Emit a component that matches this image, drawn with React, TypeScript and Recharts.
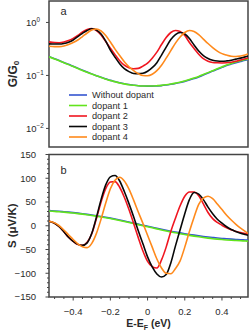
import React from 'react';
import { LineChart, Line, XAxis, YAxis, ReferenceArea, Legend } from 'recharts';

// Energy grid E - E_F (eV)
const energy = [
  -0.53, -0.5, -0.475, -0.45, -0.425, -0.4, -0.375, -0.35, -0.325, -0.3,
  -0.275, -0.25, -0.225, -0.2, -0.175, -0.15, -0.125, -0.1, -0.075, -0.05,
  -0.025, 0, 0.025, 0.05, 0.075, 0.1, 0.125, 0.15, 0.175, 0.2,
  0.225, 0.25, 0.275, 0.3, 0.325, 0.35, 0.375, 0.4, 0.425, 0.45,
  0.475, 0.5, 0.525, 0.54,
];

// Panel a: G/G0
const gWithout = [
  0.228, 0.207, 0.191, 0.175, 0.162, 0.149, 0.137, 0.126, 0.116, 0.107,
  0.0991, 0.092, 0.0861, 0.0807, 0.0766, 0.0727, 0.0696, 0.0672, 0.0655, 0.064,
  0.0632, 0.0629, 0.0629, 0.0635, 0.0643, 0.066, 0.0681, 0.0705, 0.0733, 0.0773,
  0.0818, 0.0873, 0.0937, 0.102, 0.111, 0.121, 0.131, 0.142, 0.154, 0.164,
  0.174, 0.184, 0.194, 0.199,
];
const gDopant1 = [
  0.225, 0.204, 0.189, 0.173, 0.16, 0.147, 0.135, 0.124, 0.115, 0.106,
  0.0982, 0.0912, 0.0853, 0.08, 0.076, 0.0722, 0.0692, 0.0669, 0.0653, 0.064,
  0.0633, 0.0631, 0.0633, 0.064, 0.065, 0.0668, 0.069, 0.0716, 0.0746, 0.0788,
  0.0835, 0.0892, 0.0958, 0.104, 0.113, 0.123, 0.134, 0.145, 0.157, 0.168,
  0.179, 0.189, 0.199, 0.206,
];
const gDopant2 = [
  0.43, 0.417, 0.414, 0.427, 0.455, 0.501, 0.567, 0.66, 0.736, 0.769,
  0.705, 0.579, 0.436, 0.328, 0.247, 0.19, 0.156, 0.14, 0.134, 0.136,
  0.15, 0.171, 0.212, 0.275, 0.383, 0.519, 0.646, 0.705, 0.675, 0.567,
  0.417, 0.321, 0.252, 0.207, 0.186, 0.176, 0.173, 0.172, 0.173, 0.177,
  0.185, 0.196, 0.207, 0.214,
];
const gDopant3 = [
  0.394, 0.391, 0.391, 0.4, 0.423, 0.466, 0.542, 0.624, 0.705, 0.759,
  0.721, 0.605, 0.446, 0.301, 0.221, 0.167, 0.134, 0.118, 0.109, 0.108,
  0.11, 0.12, 0.14, 0.174, 0.242, 0.343, 0.476, 0.592, 0.646, 0.605,
  0.497, 0.374, 0.288, 0.237, 0.209, 0.194, 0.187, 0.185, 0.188, 0.194,
  0.203, 0.212, 0.224, 0.23,
];
const gDopant4 = [
  0.355, 0.35, 0.35, 0.358, 0.383, 0.417, 0.466, 0.542, 0.632, 0.721,
  0.753, 0.69, 0.567, 0.427, 0.314, 0.237, 0.182, 0.146, 0.123, 0.108,
  0.0995, 0.0987, 0.105, 0.123, 0.156, 0.212, 0.294, 0.408, 0.531, 0.646,
  0.705, 0.675, 0.592, 0.486, 0.4, 0.335, 0.288, 0.258, 0.242, 0.231,
  0.228, 0.233, 0.244, 0.255,
];

// Panel b: S (µV/K)
const sWithout = [
  32, 31.2, 30.4, 29.5, 28.6, 27.6, 26.5, 25.3, 24, 22.6,
  21.1, 19.5, 17.8, 16, 14.1, 12.1, 10, 7.8, 5.6, 3.4,
  1.2, -1, -3.2, -5.4, -7.5, -9.5, -11.4, -13.2, -15, -16.7,
  -18.3, -19.8, -21.2, -22.5, -23.7, -24.8, -25.8, -26.7, -27.5, -28.2,
  -28.8, -29.4, -29.9, -30.2,
];
const sDopant1 = [
  31, 30.3, 29.5, 28.6, 27.7, 26.7, 25.6, 24.4, 23.1, 21.7,
  20.2, 18.6, 16.9, 15.1, 13.2, 11.2, 9.1, 6.9, 4.6, 2.4,
  0.1, -2.1, -4.4, -6.6, -8.8, -10.9, -12.9, -14.8, -16.7, -18.5,
  -20.2, -21.8, -23.3, -24.7, -26, -27.2, -28.2, -29.1, -29.9, -30.6,
  -31.2, -31.7, -32.1, -32.4,
];
const sDopant2 = [
  9.5, 5.3, -2.1, -12.7, -24.3, -33, -39.5, -41, -35, -17,
  15, 50, 78, 92, 93, 81, 60, 34, 5, -25,
  -53, -75, -86, -89, -72, -45, -12, 16, 42, 62,
  71, 71, 63, 46, 28, 15, 7, 1, -4.5, -8.5,
  -12, -14.5, -16.5, -17.5,
];
const sDopant3 = [
  9.5, 5.3, -2.1, -12.7, -24.3, -32.8, -39.2, -41.3, -36, -16,
  18, 55, 86, 103, 105.9, 94.2, 72, 46.6, 19, -10.6,
  -38.1, -65.6, -86.8, -101.6, -108, -102.7, -78.3, -42.3, -8.5, 25.4,
  55, 69.9, 66.7, 55, 39.2, 25.4, 13.8, 5.3, -2.1, -8,
  -12.3, -15.9, -18.6, -20.1,
];
const sDopant4 = [
  9.5, 6, 0, -9, -19, -29, -38, -44, -46, -37,
  -16, 14, 48, 78, 96, 102, 94, 77, 54, 29,
  5, -20, -45, -70, -89, -100, -101, -90, -74, -45,
  -12, 18, 45, 58, 62, 57, 46, 34, 22, 12,
  3, -5, -12, -16,
];

const seriesNames = ['Without dopant', 'dopant 1', 'dopant 2', 'dopant 3', 'dopant 4'];
const seriesColors = ['#3556d0', '#62e41c', '#f01620', '#080808', '#ff8a1c'];
const seriesKeys = ['s0', 's1', 's2', 's3', 's4'];

const gTickValues = [0.01, 0.1, 1];
const gTickExponents = ['−2', '−1', '0'];
const sMajorTicks = [-150, -100, -50, 0, 50, 100, 150];
const sAllTicks = [
  -150, -140, -130, -120, -110, -100, -90, -80, -70, -60, -50, -40, -30, -20, -10, 0,
  10, 20, 30, 40, 50, 60, 70, 80, 90, 100, 110, 120, 130, 140, 150,
];
const eMajorTicks = [-0.4, -0.2, 0, 0.2, 0.4];
const eAllTicks = [
  -0.5, -0.45, -0.4, -0.35, -0.3, -0.25, -0.2, -0.15, -0.1, -0.05, 0,
  0.05, 0.1, 0.15, 0.2, 0.25, 0.3, 0.35, 0.4, 0.45, 0.5,
];

const E_DOMAIN: [number, number] = [-0.53, 0.54];
const G_DOMAIN: [number, number] = [0.00446, 2.54];
const S_DOMAIN: [number, number] = [-150, 150];

const FONT = '"Liberation Sans", Arial, Helvetica, sans-serif';
const AXIS_COLOR = '#444';
const TEXT_COLOR = '#2a2a2a';

const gSeries = [gWithout, gDopant1, gDopant2, gDopant3, gDopant4];
const sSeries = [sWithout, sDopant1, sDopant2, sDopant3, sDopant4];

const topData = energy.map((e, i) => {
  const row: any = { e };
  seriesKeys.forEach((k, j) => (row[k] = gSeries[j][i]));
  return row;
});
const bottomData = energy.map((e, i) => {
  const row: any = { e };
  seriesKeys.forEach((k, j) => (row[k] = sSeries[j][i]));
  return row;
});

const isIn = (v: number, arr: number[]) => arr.some((a) => Math.abs(a - v) < 1e-9);
const fmtNum = (v: number) => (v < 0 ? '−' + String(Math.abs(v)) : String(v));

const GTick = (props: any) => {
  const { x, y, payload } = props;
  const idx = gTickValues.findIndex((t) => Math.abs(t - payload.value) < 1e-12);
  return (
    <g>
      <line x1={x} x2={x - 3} y1={y} y2={y} stroke={AXIS_COLOR} strokeWidth={1} />
      <text x={x - 23} y={y + 3.4} fontSize={9.5} fontFamily={FONT} fill={TEXT_COLOR} textAnchor="start">
        <tspan>10</tspan>
        <tspan dy={-4.2} fontSize={6.3}>{gTickExponents[idx]}</tspan>
      </text>
    </g>
  );
};

const STick = (props: any) => {
  const { x, y, payload } = props;
  const major = isIn(payload.value, sMajorTicks);
  return (
    <g>
      <line x1={x} x2={x - (major ? 3.5 : 2)} y1={y} y2={y} stroke={AXIS_COLOR} strokeWidth={1} />
      {major && (
        <text x={x - 13} y={y + 3.4} fontSize={9.5} fontFamily={FONT} fill={TEXT_COLOR} textAnchor="end">
          {fmtNum(payload.value)}
        </text>
      )}
    </g>
  );
};

const ETick = (props: any) => {
  const { x, y, payload } = props;
  const major = isIn(payload.value, eMajorTicks);
  return (
    <g>
      <line x1={x} x2={x} y1={y} y2={y + (major ? 3.5 : 2)} stroke={AXIS_COLOR} strokeWidth={1} />
      {major && (
        <text x={x} y={y + 18} fontSize={9.5} fontFamily={FONT} fill={TEXT_COLOR} textAnchor="middle">
          {fmtNum(Math.round(payload.value * 10) / 10)}
        </text>
      )}
    </g>
  );
};

const GTitle = (props: any) => {
  const vb = props.viewBox || { x: 0, y: 0, width: 0, height: 0 };
  const cx = vb.x + 13;
  const cy = vb.y + vb.height / 2;
  return (
    <text x={cx} y={cy} transform={`rotate(-90, ${cx}, ${cy})`} textAnchor="middle" dominantBaseline="central"
      fontSize={12} fontWeight="bold" fontFamily={FONT} fill={TEXT_COLOR}>
      <tspan>G/G</tspan>
      <tspan fontSize={8} dy={3}>0</tspan>
    </text>
  );
};

const STitle = (props: any) => {
  const vb = props.viewBox || { x: 0, y: 0, width: 0, height: 0 };
  const cx = vb.x + 12;
  const cy = vb.y + vb.height / 2;
  return (
    <text x={cx} y={cy} transform={`rotate(-90, ${cx}, ${cy})`} textAnchor="middle" dominantBaseline="central"
      fontSize={11.5} fontWeight="bold" fontFamily={FONT} fill={TEXT_COLOR}>
      S (μV/K)
    </text>
  );
};

const ETitle = (props: any) => {
  const vb = props.viewBox || { x: 0, y: 0, width: 0, height: 0 };
  const cx = vb.x + vb.width / 2;
  const cy = vb.y + 30;
  return (
    <text x={cx} y={cy} textAnchor="middle" fontSize={10.5} fontWeight="bold" fontFamily={FONT} fill={TEXT_COLOR}>
      <tspan>E-E</tspan>
      <tspan fontSize={7} dy={2.5}>F</tspan>
      <tspan dy={-2.5}> (eV)</tspan>
    </text>
  );
};

const PanelLabel = (props: any) => {
  const vb = props.viewBox || { x: 0, y: 0 };
  return (
    <text x={vb.x + 11.5} y={vb.y + props.dyBase} fontSize={11} fontFamily={FONT} fill={TEXT_COLOR}>
      {props.text}
    </text>
  );
};

const LegendBox = () => (
  <svg width={250} height={150} style={{ display: 'block' }}>
    {seriesNames.map((name, i) => {
      const y = 95 + i * 10.5;
      return (
        <g key={name}>
          <line x1={69} x2={87} y1={y} y2={y} stroke={seriesColors[i]} strokeWidth={1.6} />
          <text x={92} y={y + 3.2} fontSize={9.2} fontFamily={FONT} fill={TEXT_COLOR}>{name}</text>
        </g>
      );
    })}
  </svg>
);

const renderLines = () =>
  seriesKeys.map((k, i) => (
    <Line
      key={k}
      dataKey={k}
      name={seriesNames[i]}
      type="monotone"
      stroke={seriesColors[i]}
      strokeWidth={1.6}
      dot={false}
      activeDot={false}
      isAnimationActive={false}
    />
  ));

export default function App() {
  return (
    <div style={{ position: 'absolute', left: 0, top: 0, width: 250, height: 332, background: '#fff' }}>
      <div style={{ position: 'absolute', left: 0, top: 0 }}>
        <LineChart width={250} height={150} data={topData} margin={{ top: 1, right: 2, bottom: 0, left: 0 }}>
          <XAxis dataKey="e" type="number" domain={E_DOMAIN} allowDataOverflow ticks={[]} tick={false}
            axisLine={false} tickLine={false} height={3} />
          <YAxis type="number" scale="log" domain={G_DOMAIN} allowDataOverflow ticks={gTickValues} interval={0}
            tick={(p: any) => <GTick {...p} />} tickLine={false} axisLine={false} tickSize={0} tickMargin={0}
            width={49} label={<GTitle />} />
          {renderLines()}
          <ReferenceArea x1={E_DOMAIN[0]} x2={E_DOMAIN[1]} y1={G_DOMAIN[0]} y2={G_DOMAIN[1]} fill="none"
            fillOpacity={0} stroke={AXIS_COLOR} strokeWidth={1.5} ifOverflow="visible"
            label={<PanelLabel text="a" dyBase={14} />} />
          <Legend layout="vertical" align="center" verticalAlign="middle" content={() => <LegendBox />}
            wrapperStyle={{ left: 0, top: 0, width: 250, height: 150, pointerEvents: 'none' }} />
        </LineChart>
      </div>
      <div style={{ position: 'absolute', left: 0, top: 150 }}>
        <LineChart width={250} height={182} data={bottomData} margin={{ top: 4.5, right: 2, bottom: 0, left: 0 }}>
          <XAxis dataKey="e" type="number" domain={E_DOMAIN} allowDataOverflow ticks={eAllTicks} interval={0}
            tick={(p: any) => <ETick {...p} />} tickLine={false} axisLine={false} tickSize={0} tickMargin={0}
            height={35} label={<ETitle />} />
          <YAxis type="number" domain={S_DOMAIN} allowDataOverflow ticks={sAllTicks} interval={0}
            tick={(p: any) => <STick {...p} />} tickLine={false} axisLine={false} tickSize={0} tickMargin={0}
            width={49} label={<STitle />} />
          {renderLines()}
          <ReferenceArea x1={E_DOMAIN[0]} x2={E_DOMAIN[1]} y1={S_DOMAIN[0]} y2={S_DOMAIN[1]} fill="none"
            fillOpacity={0} stroke={AXIS_COLOR} strokeWidth={1.5} ifOverflow="visible"
            label={<PanelLabel text="b" dyBase={19} />} />
        </LineChart>
      </div>
    </div>
  );
}
